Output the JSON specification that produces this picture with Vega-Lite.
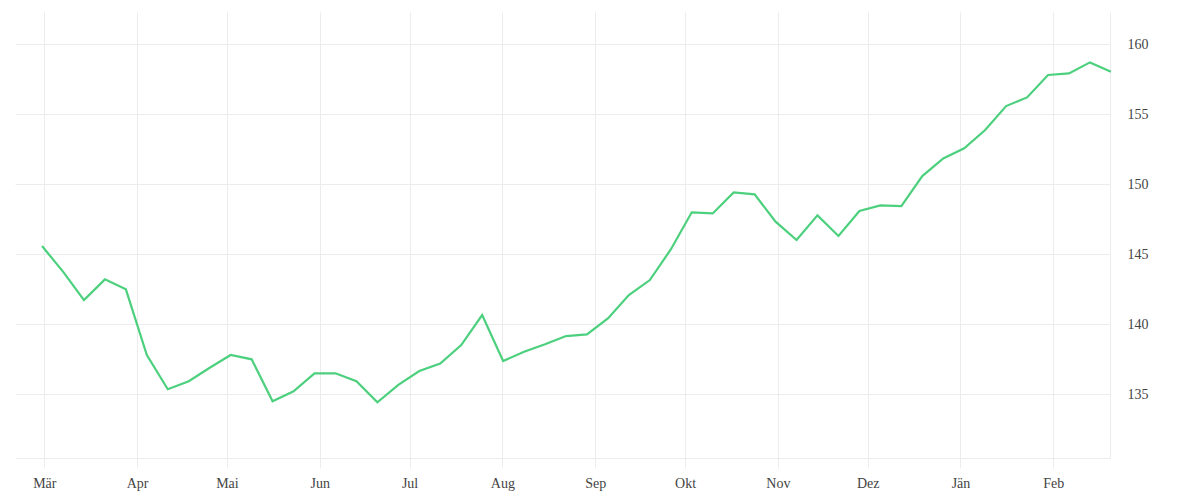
{
  "$schema": "https://vega.github.io/schema/vega-lite/v6.json",
  "width": 1095,
  "height": 446,
  "autosize": {"type": "none"},
  "padding": {"left": 15, "top": 12, "right": 90, "bottom": 42},
  "background": "white",
  "config": {
    "view": {"stroke": null},
    "font": "Liberation Serif"
  },
  "data": {
    "values": [
      {"date": "2020-02-29T06:00", "value": 145.57},
      {"date": "2020-03-07T06:00", "value": 143.74},
      {"date": "2020-03-14T06:00", "value": 141.71},
      {"date": "2020-03-21T06:00", "value": 143.19},
      {"date": "2020-03-28T06:00", "value": 142.48},
      {"date": "2020-04-04T06:00", "value": 137.79},
      {"date": "2020-04-11T06:00", "value": 135.34},
      {"date": "2020-04-18T06:00", "value": 135.91},
      {"date": "2020-04-25T06:00", "value": 136.88},
      {"date": "2020-05-02T06:00", "value": 137.79},
      {"date": "2020-05-09T06:00", "value": 137.48},
      {"date": "2020-05-16T06:00", "value": 134.48},
      {"date": "2020-05-23T06:00", "value": 135.19},
      {"date": "2020-05-30T06:00", "value": 136.48},
      {"date": "2020-06-06T06:00", "value": 136.48},
      {"date": "2020-06-13T06:00", "value": 135.91},
      {"date": "2020-06-20T06:00", "value": 134.41},
      {"date": "2020-06-27T06:00", "value": 135.65},
      {"date": "2020-07-04T06:00", "value": 136.64},
      {"date": "2020-07-11T06:00", "value": 137.17},
      {"date": "2020-07-18T06:00", "value": 138.5},
      {"date": "2020-07-25T06:00", "value": 140.64},
      {"date": "2020-08-01T06:00", "value": 137.36},
      {"date": "2020-08-08T06:00", "value": 138.02},
      {"date": "2020-08-15T06:00", "value": 138.55},
      {"date": "2020-08-22T06:00", "value": 139.14},
      {"date": "2020-08-29T06:00", "value": 139.26},
      {"date": "2020-09-05T06:00", "value": 140.4},
      {"date": "2020-09-12T06:00", "value": 142.07},
      {"date": "2020-09-19T06:00", "value": 143.14},
      {"date": "2020-09-26T06:00", "value": 145.33},
      {"date": "2020-10-03T06:00", "value": 147.98},
      {"date": "2020-10-10T06:00", "value": 147.9},
      {"date": "2020-10-17T06:00", "value": 149.4},
      {"date": "2020-10-24T06:00", "value": 149.26},
      {"date": "2020-10-31T06:00", "value": 147.31},
      {"date": "2020-11-07T06:00", "value": 146.0},
      {"date": "2020-11-14T06:00", "value": 147.76},
      {"date": "2020-11-21T06:00", "value": 146.29},
      {"date": "2020-11-28T06:00", "value": 148.07},
      {"date": "2020-12-05T06:00", "value": 148.48},
      {"date": "2020-12-12T06:00", "value": 148.43},
      {"date": "2020-12-19T06:00", "value": 150.57},
      {"date": "2020-12-26T06:00", "value": 151.83},
      {"date": "2021-01-02T06:00", "value": 152.55},
      {"date": "2021-01-09T06:00", "value": 153.86},
      {"date": "2021-01-16T06:00", "value": 155.57},
      {"date": "2021-01-23T06:00", "value": 156.19},
      {"date": "2021-01-30T06:00", "value": 157.79},
      {"date": "2021-02-06T06:00", "value": 157.9},
      {"date": "2021-02-13T06:00", "value": 158.69},
      {"date": "2021-02-20T06:00", "value": 158.02}
    ]
  },
  "mark": {"type": "line", "color": "#4cd07d", "strokeWidth": 2.2, "interpolate": "linear"},
  "encoding": {
    "x": {
      "field": "date",
      "type": "temporal",
      "title": null,
      "scale": {"type": "utc", "domain": ["2020-02-20T05:08", "2021-02-19T22:40"]},
      "axis": {
        "tickCount": {"interval": "month", "step": 1},
        "labelExpr": "['Jän','Feb','Mär','Apr','Mai','Jun','Jul','Aug','Sep','Okt','Nov','Dez'][utcmonth(datum.value)]",
        "grid": true,
        "gridColor": "#ececec",
        "gridWidth": 1,
        "domainColor": "#ececec",
        "tickColor": "#ececec",
        "tickSize": 10,
        "labelFontSize": 14,
        "labelColor": "#444",
        "labelPadding": 8,
        "labelFlush": false
      }
    },
    "y": {
      "field": "value",
      "type": "quantitative",
      "title": null,
      "scale": {"domain": [130.43, 162.29], "nice": false, "zero": false},
      "axis": {
        "orient": "right",
        "values": [135, 140, 145, 150, 155, 160],
        "grid": true,
        "gridColor": "#ececec",
        "domainColor": "#ececec",
        "ticks": false,
        "labelPadding": 17,
        "labelFontSize": 14,
        "labelColor": "#444"
      }
    }
  }
}
